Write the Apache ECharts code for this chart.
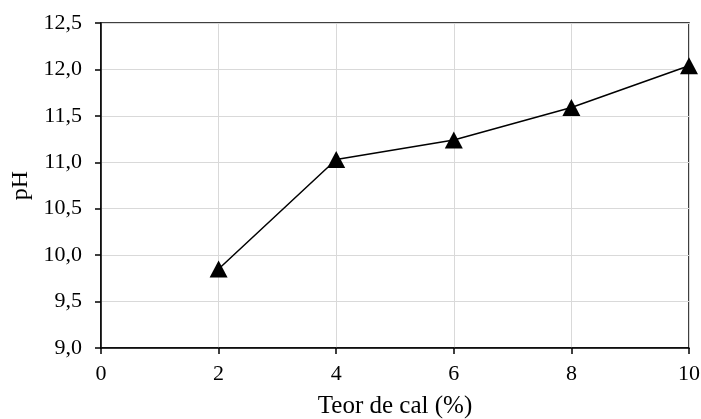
<!DOCTYPE html>
<html><head><meta charset="utf-8">
<script src="https://cdn.jsdelivr.net/npm/echarts@6/dist/echarts.min.js"></script>
<style>html,body{margin:0;padding:0;background:#fff}#c{width:701px;height:419px}</style>
</head><body><div id="c"></div>
<script>
const xValues = [2, 4, 6, 8, 10];
const phValues = [9.85, 11.03, 11.24, 11.59, 12.04];
const xTitle = 'Teor de cal (%)';
const yTitle = 'pH';
const font = '"Liberation Serif", "Times New Roman", serif';

const chart = echarts.init(document.getElementById('c'));
chart.setOption({
  animation: false,
  grid: {left: 101, right: 12, top: 23, bottom: 71, outerBoundsMode: 'none', containLabel: false,
    show: true, borderColor: '#000', borderWidth: 1.5},
  xAxis: {
    type: 'value', min: 0, max: 10, interval: 2,
    name: xTitle, nameLocation: 'middle', nameGap: 46,
    nameTextStyle: {fontFamily: font, fontSize: 25, color: '#000'},
    axisLine: {show: true, onZero: false, lineStyle: {color: '#000', width: 1.5}},
    axisTick: {show: true, length: 6, lineStyle: {color: '#000', width: 1.5}},
    axisLabel: {fontFamily: font, fontSize: 22, color: '#000', margin: 15},
    splitLine: {show: true, lineStyle: {color: '#d9d9d9', width: 1}}
  },
  yAxis: {
    type: 'value', min: 9, max: 12.5, interval: 0.5,
    name: yTitle, nameLocation: 'middle', nameGap: 68, nameRotate: 90,
    nameTextStyle: {fontFamily: font, fontSize: 24, color: '#000'},
    axisLine: {show: true, lineStyle: {color: '#000', width: 1.5}},
    axisTick: {show: true, length: 6, lineStyle: {color: '#000', width: 1.5}},
    axisLabel: {fontFamily: font, fontSize: 22, color: '#000', margin: 19,
      formatter: v => v.toFixed(1).replace('.', ',')},
    splitLine: {show: true, lineStyle: {color: '#d9d9d9', width: 1}}
  },
  series: [{
    type: 'line',
    data: xValues.map((x, i) => [x, phValues[i]]),
    symbol: 'triangle', symbolSize: [18, 17],
    itemStyle: {color: '#000'},
    lineStyle: {color: '#000', width: 1.5},
    clip: false
  }]
});
</script></body></html>
